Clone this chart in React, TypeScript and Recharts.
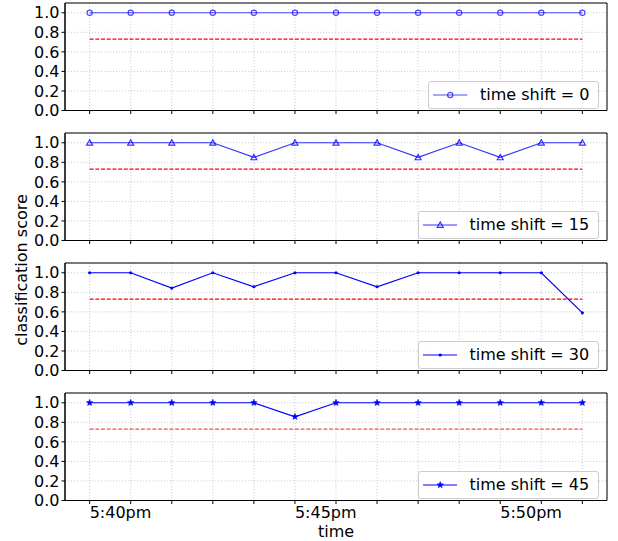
import React from 'react';
import { LineChart, Line, XAxis, YAxis, CartesianGrid, ReferenceLine, ReferenceArea, Legend } from 'recharts';

// ---- data ----
const times = ['5:40pm', '5:41pm', '5:42pm', '5:43pm', '5:44pm', '5:45pm', '5:46pm', '5:47pm', '5:48pm', '5:49pm', '5:50pm', '5:51pm', '5:52pm'];
const labeledTimes = ['5:40pm', '5:45pm', '5:50pm'];
const shift0 = [1, 1, 1, 1, 1, 1, 1, 1, 1, 1, 1, 1, 1];
const shift15 = [1, 1, 1, 1, 0.85, 1, 1, 1, 0.85, 1, 0.85, 1, 1];
const shift30 = [1, 1, 0.843, 1, 0.857, 1, 1, 0.857, 1, 1, 1, 1, 0.59];
const shift45 = [1, 1, 1, 1, 1, 0.857, 1, 1, 1, 1, 1, 1, 1];
const shiftLabels = [0, 15, 30, 45];
const threshold = 0.73;
const yTicks = [0, 0.2, 0.4, 0.6, 0.8, 1.0];

// ---- layout ----
const FONT = '"DejaVu Sans", sans-serif';
const CHART_W = 618;
const PLOT_LEFT = 65;
const PLOT_RIGHT = 607;
const PLOT_H = 107.5;
const TOP_PAD = 10;
const XAXIS_H = 41;
const plotBottoms = [110, 240, 370, 500];
const legendWidths = [171, 181.5, 181.5, 181.5];

type Marker = 'circle' | 'triangle' | 'point' | 'star';

const panels: { values: number[]; shift: number; marker: Marker; color: string; redColor: string }[] = [
  { values: shift0, shift: shiftLabels[0], marker: 'circle', color: 'rgba(0,0,255,0.7)', redColor: '#ff0000' },
  { values: shift15, shift: shiftLabels[1], marker: 'triangle', color: 'rgba(0,0,255,0.8)', redColor: '#ff0000' },
  { values: shift30, shift: shiftLabels[2], marker: 'point', color: '#0000ff', redColor: '#ff0000' },
  { values: shift45, shift: shiftLabels[3], marker: 'star', color: '#0000ff', redColor: 'rgba(255,0,0,0.7)' },
];

function starPoints(cx: number, cy: number, R: number, r: number) {
  const pts: string[] = [];
  for (let k = 0; k < 10; k++) {
    const a = ((-90 + k * 36) * Math.PI) / 180;
    const rad = k % 2 === 0 ? R : r;
    pts.push(`${cx + rad * Math.cos(a)},${cy + rad * Math.sin(a)}`);
  }
  return pts.join(' ');
}

function renderMarker(kind: Marker, cx: number, cy: number, color: string, key?: any) {
  if (cx == null || cy == null) return <g key={key} />;
  switch (kind) {
    case 'circle':
      return <circle key={key} cx={cx} cy={cy} r={2.6} fill="none" stroke={color} strokeWidth={1.2} />;
    case 'triangle':
      return (
        <polygon
          key={key}
          points={`${cx},${cy - 3} ${cx - 3},${cy + 2.3} ${cx + 3},${cy + 2.3}`}
          fill="none"
          stroke={color}
          strokeWidth={1.2}
        />
      );
    case 'point':
      return <circle key={key} cx={cx} cy={cy} r={1.6} fill={color} stroke="none" />;
    case 'star':
      return <polygon key={key} points={starPoints(cx, cy, 3.4, 1.5)} fill={color} stroke={color} strokeWidth={0.5} />;
  }
  return <g key={key} />;
}

const xTickFormat = (i: number) => {
  const t = times[Math.round(i)];
  return labeledTimes.includes(t) ? t : '';
};

const Panel = ({ idx }: { idx: number }) => {
  const p = panels[idx];
  const data = times.map((t, i) => ({ i, t, v: p.values[i] }));
  const showLabels = idx === panels.length - 1;
  const top = plotBottoms[idx] - PLOT_H - TOP_PAD;
  const lw = legendWidths[idx];
  const legendLeft = PLOT_RIGHT - 8 - lw;
  const legendTop = TOP_PAD + PLOT_H - 1.5 - 28;

  return (
    <div style={{ position: 'absolute', left: 0, top }}>
      <LineChart
        width={CHART_W}
        height={TOP_PAD + PLOT_H + XAXIS_H}
        data={data}
        margin={{ top: TOP_PAD, right: CHART_W - PLOT_RIGHT, bottom: 0, left: 0 }}
      >
        <CartesianGrid stroke="#c4c4c4" strokeDasharray="1.2 1.8" strokeWidth={0.8} />
        <XAxis
          dataKey="i"
          type="number"
          domain={[-0.6, 12.6]}
          ticks={times.map((_, i) => i)}
          allowDataOverflow
          interval={0}
          height={XAXIS_H}
          tickSize={3.5}
          tickMargin={3}
          axisLine={{ stroke: '#000', strokeWidth: 1 }}
          tickLine={{ stroke: '#000', strokeWidth: 1 }}
          tick={(tp: any) => (
            <text
              key={`t${tp.index}`}
              x={tp.x}
              y={tp.y}
              dy="0.71em"
              textAnchor="start"
              fontSize={16}
              fontFamily={FONT}
              fill="#000"
            >
              {showLabels ? xTickFormat(tp.payload.value) : ''}
            </text>
          )}
          label={
            showLabels
              ? () => (
                  <text
                    x={(PLOT_LEFT + PLOT_RIGHT) / 2}
                    y={TOP_PAD + PLOT_H + 36}
                    textAnchor="middle"
                    fontSize={16}
                    fontFamily={FONT}
                    fill="#000"
                  >
                    time
                  </text>
                )
              : undefined
          }
        />
        <YAxis
          type="number"
          domain={[0, 1.1]}
          ticks={yTicks}
          interval={0}
          allowDataOverflow
          width={PLOT_LEFT}
          tickSize={3.5}
          tickMargin={2}
          axisLine={{ stroke: '#000', strokeWidth: 1 }}
          tickLine={{ stroke: '#000', strokeWidth: 1 }}
          tickFormatter={(v: number) => v.toFixed(1)}
          tick={{ fontSize: 16, fontFamily: FONT, fill: '#000' }}
        />
        <ReferenceArea x1={-0.6} x2={12.6} y1={0} y2={1.1} fill="none" stroke="#000" strokeWidth={1} ifOverflow="visible" />
        <ReferenceLine
          segment={[
            { x: 0, y: threshold },
            { x: times.length - 1, y: threshold },
          ]}
          stroke={p.redColor}
          strokeDasharray="4 1.7"
          strokeWidth={1.2}
          ifOverflow="visible"
        />
        <Line
          dataKey="v"
          stroke={p.color}
          strokeWidth={1.2}
          isAnimationActive={false}
          dot={(dp: any) => renderMarker(p.marker, dp.cx, dp.cy, p.color, `d${dp.index}`)}
          activeDot={false}
        />
        <Legend
          layout="horizontal"
          verticalAlign="middle"
          align="center"
          wrapperStyle={{ left: legendLeft, top: legendTop, width: lw, height: 28 }}
          content={() => (
            <div
              style={{
                boxSizing: 'border-box',
                width: lw,
                height: 28,
                border: '1px solid #cccccc',
                borderRadius: 3,
                background: 'rgba(255,255,255,0.85)',
                display: 'flex',
                alignItems: 'center',
                fontFamily: FONT,
                fontSize: 16,
                color: '#000',
              }}
            >
              <svg width={34.4} height={12} style={{ marginLeft: 4.3, flex: 'none', display: 'block' }}>
                <line x1={0} x2={34.4} y1={6} y2={6} stroke={p.color} strokeWidth={1.2} />
                {renderMarker(p.marker, 17.2, 6, p.color)}
              </svg>
              <span style={{ marginLeft: 12.3, whiteSpace: 'nowrap', lineHeight: '16px' }}>time shift = {p.shift}</span>
            </div>
          )}
        />
      </LineChart>
    </div>
  );
};

export default function App() {
  return (
    <div style={{ position: 'absolute', left: 0, top: 0, width: 618, height: 541, background: '#fff', overflow: 'hidden' }}>
      {panels.map((_, i) => (
        <Panel key={i} idx={i} />
      ))}
      <svg width={40} height={541} style={{ position: 'absolute', left: 0, top: 0 }}>
        <text
          transform="translate(27, 270) rotate(-90)"
          textAnchor="middle"
          fontSize={16}
          fontFamily={FONT}
          fill="#000"
        >
          classification score
        </text>
      </svg>
    </div>
  );
}
